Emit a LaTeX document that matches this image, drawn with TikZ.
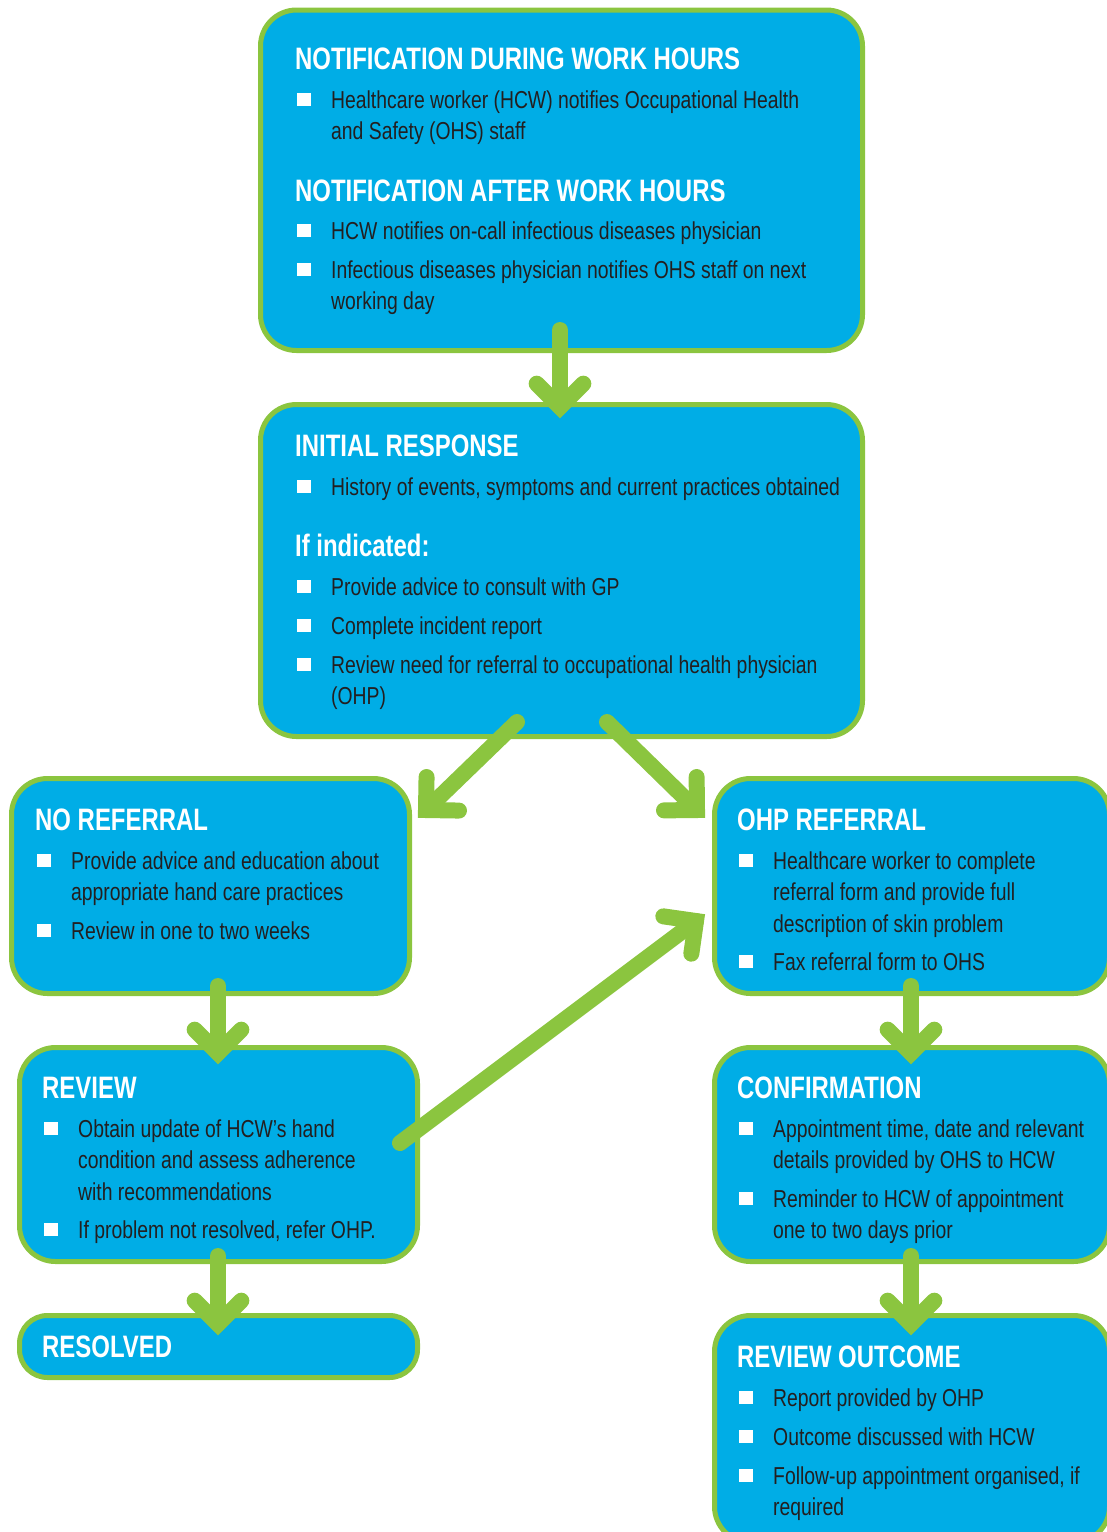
\documentclass[tikz,border=0pt]{standalone}
\usepackage{fontspec}
\setmainfont{Liberation Sans}[FakeStretch=0.79]
\newfontfamily\ttlfont{Liberation Sans}[FakeStretch=0.772]
\usetikzlibrary{calc}
\definecolor{boxfill}{RGB}{0,173,230}
\definecolor{boxline}{RGB}{139,197,63}
\definecolor{bodytext}{RGB}{35,31,32}
\newcommand\itemtext[1]{\makebox[34pt][l]{\textcolor{white}{\rule[2pt]{13.5pt}{13.5pt}}}\parbox[t]{600pt}{#1}}
\newcommand\flowarrow[2]{%
  \draw[flowline] (#1) -- (#2);
  \draw[flowline, line join=miter] ($(#2)!33pt!45:(#1)$) -- (#2) -- ($(#2)!33pt!-45:(#1)$);}
\tikzset{
  flowbox/.style={draw=boxline, fill=boxfill, line width=5pt, rounded corners=36pt, inner sep=0pt, outer sep=0pt},
  ttl/.style={anchor=base west, inner sep=0pt, text=white, font=\fontsize{31}{36}\selectfont\ttlfont\bfseries},
  itm/.style={anchor=base west, inner sep=0pt, text=bodytext, font=\fontsize{24.5}{31.5}\selectfont},
  flowline/.style={draw=boxline, line width=16pt, line cap=round}
}
\begin{document}
\begin{tikzpicture}[x=1pt,y=-1pt]
\useasboundingbox (0,0) rectangle (1107,1532);
% boxes
\node[flowbox, minimum width=602pt, minimum height=340.5pt] (b1) at (561.5,180.25) {};
\node[flowbox, minimum width=602pt, minimum height=332pt] (b2) at (561.5,570.5) {};
\node[flowbox, minimum width=398pt, minimum height=215pt] (b3) at (210.5,886) {};
\node[flowbox, minimum width=395pt, minimum height=215pt] (b4) at (912,886) {};
\node[flowbox, minimum width=398pt, minimum height=214pt] (b5) at (218.5,1154.5) {};
\node[flowbox, rounded corners=28pt, minimum width=398pt, minimum height=62pt] (b6) at (218.5,1346.5) {};
\node[flowbox, minimum width=395pt, minimum height=214pt] (b7) at (912,1154.5) {};
\node[flowbox, minimum width=395pt, minimum height=227pt] (b8) at (912,1429) {};
% arrow end points
\coordinate (a1s) at (560,330);  \coordinate (a1t) at (560,407);
\coordinate (a2s) at (517,722);  \coordinate (a2t) at (426,810);
\coordinate (a3s) at (607,722);  \coordinate (a3t) at (697,810);
\coordinate (a4s) at (218,986);  \coordinate (a4t) at (218,1053);
\coordinate (a5s) at (218,1256); \coordinate (a5t) at (218,1324);
\coordinate (a6s) at (400,1143); \coordinate (a6t) at (696,921);
\coordinate (a7s) at (911,986);  \coordinate (a7t) at (911,1053);
\coordinate (a8s) at (911,1256); \coordinate (a8t) at (911,1324);
\flowarrow{a1s}{a1t}
\flowarrow{a2s}{a2t}
\flowarrow{a3s}{a3t}
\flowarrow{a4s}{a4t}
\flowarrow{a5s}{a5t}
\flowarrow{a6s}{a6t}
\flowarrow{a7s}{a7t}
\flowarrow{a8s}{a8t}
% box 1
\node[ttl] (t1) at (295,69) {NOTIFICATION DURING WORK HOURS};
\node[itm] (i11) at (297,108) {\itemtext{Healthcare worker (HCW) notifies Occupational Health\\and Safety (OHS) staff}};
\node[ttl] (t1b) at (295,201) {NOTIFICATION AFTER WORK HOURS};
\node[itm] (i12) at (297,239) {\itemtext{HCW notifies on-call infectious diseases physician}};
\node[itm] (i13) at (297,278) {\itemtext{Infectious diseases physician notifies OHS staff on next\\working day}};
% box 2
\node[ttl] (t2) at (295,456) {INITIAL RESPONSE};
\node[itm] (i21) at (297,495) {\itemtext{History of events, symptoms and current practices obtained}};
\node[ttl] (t2b) at (295,556) {If indicated:};
\node[itm] (i22) at (297,595) {\itemtext{Provide advice to consult with GP}};
\node[itm] (i23) at (297,634) {\itemtext{Complete incident report}};
\node[itm] (i24) at (297,673) {\itemtext{Review need for referral to occupational health physician\\(OHP)}};
% box 3
\node[ttl] (t3) at (35,830) {NO REFERRAL};
\node[itm] (i31) at (37,869) {\itemtext{Provide advice and education about\\appropriate hand care practices}};
\node[itm] (i32) at (37,939) {\itemtext{Review in one to two weeks}};
% box 4
\node[ttl] (t4) at (737,830) {OHP REFERRAL};
\node[itm] (i41) at (739,869) {\itemtext{Healthcare worker to complete\\referral form and provide full\\description of skin problem}};
\node[itm] (i42) at (739,970) {\itemtext{Fax referral form to OHS}};
% box 5
\node[ttl] (t5) at (42,1098) {REVIEW};
\node[itm] (i51) at (44,1137) {\itemtext{Obtain update of HCW’s hand\\condition and assess adherence\\with recommendations}};
\node[itm] (i52) at (44,1238) {\itemtext{If problem not resolved, refer OHP.}};
% box 6
\node[ttl] (t6) at (42,1357) {RESOLVED};
% box 7
\node[ttl] (t7) at (737,1098) {CONFIRMATION};
\node[itm] (i71) at (739,1137) {\itemtext{Appointment time, date and relevant\\details provided by OHS to HCW}};
\node[itm] (i72) at (739,1207) {\itemtext{Reminder to HCW of appointment\\one to two days prior}};
% box 8
\node[ttl] (t8) at (737,1367) {REVIEW OUTCOME};
\node[itm] (i81) at (739,1406) {\itemtext{Report provided by OHP}};
\node[itm] (i82) at (739,1445) {\itemtext{Outcome discussed with HCW}};
\node[itm] (i83) at (739,1484) {\itemtext{Follow-up appointment organised, if\\required}};
\end{tikzpicture}
\end{document}
